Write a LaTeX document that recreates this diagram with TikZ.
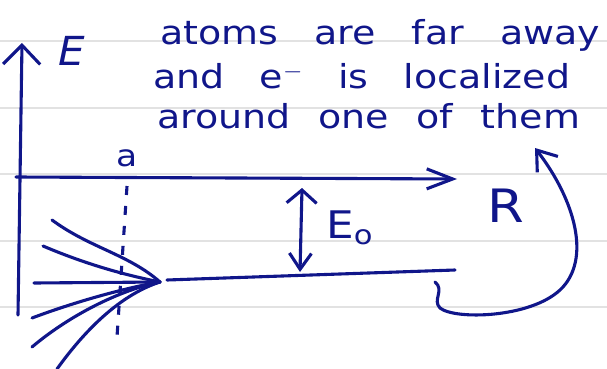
\documentclass[tikz,border=0pt]{standalone}
\usepackage{fontspec}
\newfontfamily\handfont{DejaVu Sans}[FakeStretch=1.15]
\newfontfamily\handslant{DejaVu Sans Oblique}[FakeStretch=1.05]
\usetikzlibrary{arrows.meta}
\definecolor{ink}{HTML}{10168A}
\definecolor{rule}{HTML}{E2E2E2}
\tikzset{
  pen/.style={draw=ink, line width=3.1pt, line cap=round, line join=round},
  rulerline/.style={draw=rule, line width=2.4pt},
  note/.style={
    text=ink, inner sep=0pt, anchor=base west,
    font=\handfont\fontsize{33}{36}\selectfont
  },
  tag/.style={text=ink, inner sep=0pt, font=\handfont\fontsize{#1}{#1}\selectfont}
}
\begin{document}
\begin{tikzpicture}[x=1pt, y=-1pt]
  \useasboundingbox (0,0) rectangle (607,369);
  % ruled paper
  \foreach \yy in {41,108,174,241,307}
    \draw[rulerline] (0,\yy) -- (607,\yy);

  \node[note] (line1) at (160,45) {\makebox[440pt][s]{atoms are far away}};
  \node[note] (line2) at (153,88) {\makebox[417pt][s]{and e$^{-}$ is localized}};
  \node[note] (line3) at (157,128) {\makebox[423pt][s]{around one of them}};

  \coordinate (ebot) at (18,315);
  \coordinate (etop) at (22,43);
  \coordinate (rstart) at (16,177);
  \coordinate (rend) at (457,179);
  \node[tag=40, font=\handslant\fontsize{40}{40}\selectfont] (elabel) at (72,51) {E};
  \node[tag=46] (rlabel) at (506,206) {R};
  \node[tag=30] (alabel) at (127,158) {a};

  \draw[pen, -{Straight Barb[length=19pt, width=37pt]}] (ebot) -- (etop);
  \draw[pen, -{Straight Barb[length=26pt, width=20pt]}] (rstart) -- (rend);

  \coordinate (dashtop) at (127,186);
  \coordinate (dashbot) at (117,337);
  \draw[pen, dash pattern=on 9pt off 11pt, line cap=butt] (dashtop) -- (dashbot);

  \coordinate (meet) at (160,282);
  \coordinate (levelstart) at (167,280);
  \coordinate (levelend) at (455,270);
  \draw[pen] (levelstart) -- (levelend);
  \draw[pen] (52,220) .. controls (90,248) and (128,254) .. (meet);
  \draw[pen] (43,246) .. controls (90,266) and (130,276) .. (meet);
  \draw[pen] (34,283) -- (meet);
  \draw[pen] (32,318) .. controls (80,300) and (130,287) .. (meet);
  \draw[pen] (32,347) .. controls (70,315) and (120,290) .. (meet);
  \draw[pen] (57,369) .. controls (85,330) and (120,295) .. (meet);

  \coordinate (gaptop) at (302,188);
  \coordinate (gapbot) at (300,272);
  \draw[pen, {Straight Barb[length=13pt, width=30pt]}-{Straight Barb[length=16pt, width=22pt]}] (gaptop) -- (gapbot);
  \node[tag=38, anchor=west] (ezero) at (326,228) {E\textsubscript{o}};

  \coordinate (loopstart) at (435,282);
  \coordinate (looptip) at (535,148);
  \draw[pen, -{Straight Barb[length=18pt, width=26pt]}] (loopstart)
    .. controls (445,290) and (432,300) .. (440,308)
    .. controls (455,320) and (530,318) .. (560,290)
    .. controls (592,260) and (575,200) .. (looptip);
\end{tikzpicture}
\end{document}
